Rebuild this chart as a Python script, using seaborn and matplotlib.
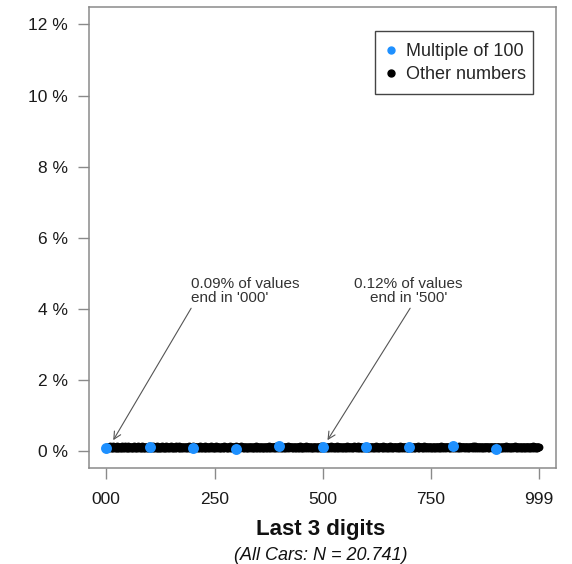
import matplotlib
matplotlib.use("Agg")
import matplotlib.pyplot as plt
from matplotlib.lines import Line2D
from matplotlib.patches import Rectangle
import pandas as pd
import seaborn as sns

# Total number of cars in the sample
N_TOTAL = 20741

# Counts of cars whose number ends in 000, 100, ..., 900
hundreds_digits = [0, 100, 200, 300, 400, 500, 600, 700, 800, 900]
hundreds_counts = [19, 27, 21, 13, 33, 25, 27, 27, 29, 11]

# Counts for all other endings (001..099, 101..199, ..., 901..999), in order
other_counts_text = """
24 19 27 22 18 25 21 29 23 17 26 20 24 22 31 19 23 25 16 22 27 21 24 20 28 23 18 22 26 21
23 27 20 25 19 22 30 24 21 17 23 26 22 28 20 24 19 25 23 21 29 18 22 26 24 20 23 27 19 25
22 18 26 23 28 21 24 16 25 22 27 20 23 30 19 24 22 26 21 18 25 23 28 20 22 24 17 26 23 21
25 22 19 27 23 20 26 24 29 18 22 25 21 23 27 19 24 32 20 22 26 23 18 25 21 24 28 22 19 23
20 26 23 21 25 17 28 22 24 19 23 27 21 25 20 22 30 18 24 23 26 21 19 27 22 25 23 20 28 24
23 21 27 19 24 22 26 20 25 29 18 23 22 26 24 21 19 28 23 25 20 22 27 24 17 23 26 21 25 22
27 24 20 23 18 26 22 25 21 28 23 19 25 22 27 20 24 23 29 21 18 26 22 24 20 25 23 27 19 22
21 25 23 28 22 19 24 27 20 23 26 22 18 25 21 24 28 23 20 26 22 19 25 23 27 21 24 22 30 20
24 22 26 20 23 27 21 25 19 22 24 28 23 20 26 22 25 17 24 23 21 27 20 25 22 24 19 26 23 28
19 23 25 22 27 21 24 20 26 23 18 25 22 29 24 21 23 26 20 24 22 27 19 23 25 21 28 22 24 20
26 21 24 19 25 23 20 28 22 24 26 21 23 19 25 27 22 24 20 23 26 21 25 18 24 22 27 23 20 25
22 24 18 26 21 25 23 27 20 22 25 19 28 23 21 24 26 22 20 25 23 19 27 22 24 21 26 23 25 20
25 20 23 27 22 19 24 26 21 25 23 28 20 22 24 19 26 23 25 21 22 27 24 20 23 26 21 29 22 24
21 26 22 24 20 28 23 25 19 24 22 26 21 27 23 20 25 22 24 18 26 23 21 25 28 22 24 20 23 26
24 22 27 20 25 23 18 26 22 24 21 25 27 20 23 26 22 19 24 25 21 23 28 22 20 24 26 23 21 25
20 25 23 26 21 24 22 28 23 19 25 22 24 26 21 23 27 20 22 25 24 21 23 19 26 22 25 24 20 27
23 27 21 24 19 26 22 25 20 24 28 23 21 25 22 19 24 26 23 20 27 22 25 21 24 23 18 26 22 25
26 21 25 22 28 20 24 23 27 21 22 25 19 24 26 23 21 28 22 24 20 25 23 26 22 19 24 27 21 23
22 24 20 27 23 25 21 19 26 22 24 28 23 20 25 22 27 21 24 23 26 19 22 25 24 20 23 28 22 26
25 19 24 22 26 21 28 23 20 25 22 24 27 21 23 19 26 24 22 25 20 23 27 22 24 21 25 23 19 26
21 26 23 25 20 24 22 27 24 19 23 26 21 25 22 28 20 24 23 26 22 21 25 24 19 27 23 22 26 20
24 22 28 21 23 26 20 25 22 24 27 21 23 19 26 24 22 25 28 20 23 24 21 26 22 25 20 27 23 24
27 23 20 24 22 25 26 19 23 21 25 24 28 22 20 26 23 24 21 25 22 27 19 24 23 26 22 20 25 21
20 25 24 22 27 21 23 26 24 20 22 25 23 27 21 24 19 26 22 23 25 20 28 24 22 21 26 23 25 22
23 21 26 24 19 25 22 28 20 24 23 26 22 21 25 23 27 20 24 22 26 23 21 25 19 24 22 27 23 20
25 24 21 23 26 20 27 22 25 23 19 24 26 22 21 28 23 25 20 24 22 26 24 21 23 25 20 22 27 24
22 26 23 20 24 25 21 27 23 22 26 20 24 23 25 21 22 27 24 19 25 23 26 22 20 24 28 21 23 25
24 20 25 27 22 23 26 21 24 22 25 23 20 26 24 22 19 25 23 27 21 24 22 26 23 20 25 24 22 28
21 25 22 24 28 19 23 25 22 26 21 24 27 23 20 25 22 24 26 21 23 25 20 24 22 27 23 21 26 24
26 23 24 21 25 22 20 27 24 23 25 21 24 22 26 20 23 25 27 22 24 21 23 26 22 25 24 20 23 21
23 25 21 24 27 20 22 26 23 19 25 24 22 28 21 23 26 20 24 22 25 27 21 23 19 24 26 22 25 23
20 24 26 22 23 28 21 25 19 24 22 27 23 20 25 26 22 24 21 23 27 19 25 22 24 20 26 23 21 25
24 22 19 26 23 25 21 27 22 24 20 23 26 25 21 28 22 24 19 23 25 22 27 20 24 26 21 23 22 25
"""
other_counts = [int(v) for v in other_counts_text.split()]
other_digits = [d for d in range(1000) if d % 100 != 0]

x_tick_values = [0, 250, 500, 750, 999]
x_tick_labels = ["000", "250", "500", "750", "999"]
y_tick_values = [0, 2, 4, 6, 8, 10, 12]

BLUE = "#1E90FF"
GREY = "#8a8a8a"

df = pd.DataFrame({
    "digits": other_digits + hundreds_digits,
    "count": other_counts + hundreds_counts,
    "group": ["Other numbers"] * len(other_digits) + ["Multiple of 100"] * len(hundreds_digits),
})
df["pct"] = df["count"] / N_TOTAL * 100

sns.set_theme(style="white")
plt.rcParams["font.family"] = ["Liberation Sans", "DejaVu Sans"]

W, H = 572, 564
L, R, T, B = 89, 556, 7.3, 468.3
fig = plt.figure(figsize=(W / 100, H / 100), dpi=100)
ax = fig.add_axes([L / W, 1 - B / H, (R - L) / W, (B - T) / H])


def px_to_axes(px, py):
    """Convert figure pixel position (from top-left) to axes fraction."""
    return (px - L) / (R - L), (B - py) / (B - T)


others = df[df["group"] == "Other numbers"]
hundreds = df[df["group"] == "Multiple of 100"]
sns.scatterplot(data=others, x="digits", y="pct", color="black", s=32,
                linewidth=0, ax=ax, legend=False, zorder=2)
sns.scatterplot(data=hundreds, x="digits", y="pct", color=BLUE, s=62,
                linewidth=0, ax=ax, legend=False, zorder=3)

ax.set_xlim(-40, 1039)
ax.set_ylim(-0.48, 12.48)
ax.set_xticks(x_tick_values)
ax.set_xticklabels(x_tick_labels)
ax.set_yticks(y_tick_values)
ax.set_yticklabels([f"{v} %" for v in y_tick_values])
ax.tick_params(axis="both", which="both", direction="out", length=8, width=1.0,
               color=GREY, labelsize=12.5, labelcolor="#1a1a1a", pad=7,
               bottom=True, left=True)
ax.tick_params(axis="x", pad=9)
for sp in ax.spines.values():
    sp.set_color(GREY)
    sp.set_linewidth(1.1)

ax.set_xlabel("")
ax.set_ylabel("")
fig.text(321 / W, 1 - 529 / H, "Last 3 digits", ha="center", va="center",
         fontsize=16, fontweight="bold", color="#111111")
fig.text(321 / W, 1 - 556 / H, "(All Cars: N = 20.741)", ha="center", va="center",
         fontsize=13, fontstyle="italic", color="#111111")

# Annotations for the '000' and '500' endings
pct_000 = hundreds_counts[0] / N_TOTAL * 100
pct_500 = hundreds_counts[5] / N_TOTAL * 100
arrow_style = dict(arrowstyle="->", color="#555555", lw=0.8, mutation_scale=13,
                   shrinkA=0, shrinkB=0)
ax.annotate(f"{pct_000:.2f}% of values\nend in '000'", xy=(196, 4.1),
            ha="left", va="bottom", fontsize=11, color="#333333", linespacing=1.05)
ax.annotate("", xy=(16, 0.31), xytext=(196, 4.02), arrowprops=arrow_style)
ax.annotate(f"{pct_500:.2f}% of values\nend in '500'", xy=(698, 4.1),
            ha="center", va="bottom", fontsize=11, color="#333333", linespacing=1.05)
ax.annotate("", xy=(511, 0.31), xytext=(702, 4.02), arrowprops=arrow_style)

# Legend: entries without frame, box drawn separately
handles = [
    Line2D([], [], marker="o", linestyle="", color=BLUE, markersize=5),
    Line2D([], [], marker="o", linestyle="", color="black", markersize=5),
]
ax.legend(handles, ["Multiple of 100", "Other numbers"], loc="upper left",
          bbox_to_anchor=px_to_axes(382, 43.5), fontsize=13, frameon=False,
          handletextpad=0.35, handlelength=1.0, borderpad=0, labelspacing=0.3,
          borderaxespad=0)
x0, y0 = px_to_axes(375, 94)
x1, y1 = px_to_axes(533, 31)
ax.add_patch(Rectangle((x0, y0), x1 - x0, y1 - y0, transform=ax.transAxes,
                       fill=False, edgecolor="#444444", linewidth=1.0, zorder=4))

fig.savefig("out.png", dpi=100)
